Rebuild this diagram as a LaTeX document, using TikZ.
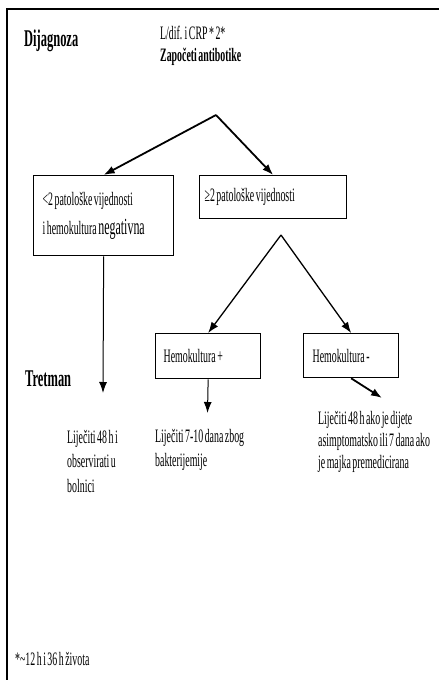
\documentclass[tikz,border=0pt]{standalone}
\usepackage{fontspec}
\setmainfont{Liberation Serif}[FakeStretch=0.52, WordSpace=0.6]
\usetikzlibrary{arrows.meta}
\tikzset{box node/.style={rectangle,draw,line width=1.3pt,anchor=north west,align=left,inner ysep=0pt,
             font=\fontsize{19}{22}\selectfont,execute at begin node={\spaceskip=0pt\xspaceskip=0pt\relax}},
         plain label/.style={inner sep=0pt,align=left,anchor=west,font=\fontsize{19}{22}\selectfont},
         wide lines/.style={font=\fontsize{19}{24.5}\selectfont},
         side title/.style={inner sep=0pt,anchor=base west,font=\fontsize{24}{28}\selectfont\bfseries},
         flow/.style={->,line width=1.8pt},
         thin flow/.style={->,line width=1pt}
}

\begin{document}
\begin{tikzpicture}[>={Latex[length=11pt,width=8pt]},
x=1pt, y=-1pt]
\useasboundingbox (0,0) rectangle (439,680);
\draw[line width=1.5pt] (439,9) -- (7,9) -- (7,680);

\node[side title] (diagnosis) at (24,46) {Dijagnoza};
\node[side title] (treatment) at (25,386) {Tretman};
\node[plain label] (start) at (160,45.5) {L/dif. i CRP * 2*\\\textbf{Započeti antibotike}};

\node[box node, text width=122pt, inner xsep=9pt, minimum height=80pt] (lowcount) at (33,175)
    {<2 patološke vijednosti\\[7pt]i hemokultura {\fontsize{23}{22}\selectfont negativna}};
\node[box node, text width=137pt, inner xsep=5pt, minimum height=43pt] (highcount) at (199,175)
    {≥2 patološke vijednosti};
\node[box node, text width=89pt, inner xsep=8pt, minimum height=45pt] (hplus) at (155,333)
    {Hemokultura +};
\node[box node, text width=77pt, inner xsep=9pt, minimum height=44pt] (hminus) at (303,333)
    {Hemokultura -};

\node[plain label, wide lines] (observe) at (67,461) {Liječiti 48 h i\\observirati u\\bolnici};
\node[plain label, wide lines] (treatlong) at (155,450) {Liječiti 7-10 dana zbog\\bakterijemije};
\node[plain label] (treatshort) at (318,442)
    {Liječiti 48 h ako je dijete\\asimptomatsko ili 7 dana ako\\je majka premedicirana};
\node[plain label, anchor=base west] (footnote) at (15,665) {*\textasciitilde12 h i 36 h života};

\coordinate (split) at (216,115);
\coordinate (fork) at (281,235);
\coordinate (lowend) at (103,393);
\coordinate (plusend) at (207.5,413);
\coordinate (minusend) at (382,398);

\draw[flow] (split) -- (lowcount.north);
\draw[flow] (split) -- (highcount.north);
\draw[thin flow] (lowcount.south) -- (lowend);
\draw[flow, line width=1.3pt] (fork) -- (hplus.north);
\draw[flow, line width=1.3pt] (fork) -- (hminus.north);
\draw[thin flow] (hplus.south) -- (plusend);
\draw[flow] (hminus.south) -- (minusend);
\end{tikzpicture}
\end{document}
